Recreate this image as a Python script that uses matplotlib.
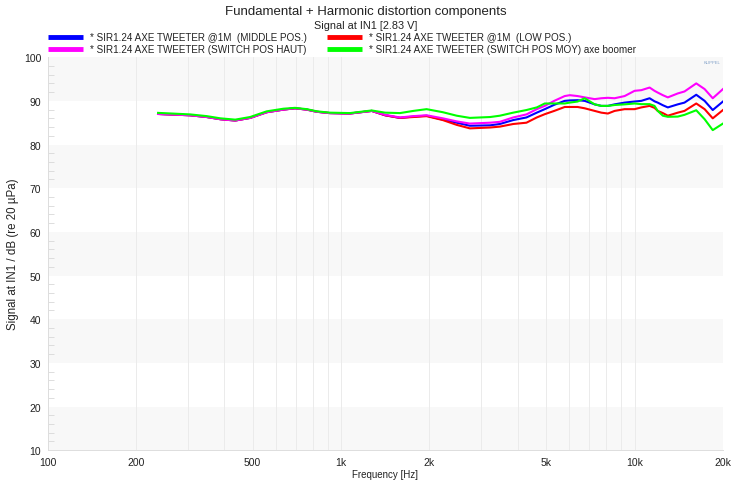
import numpy as np
import matplotlib
matplotlib.use("Agg")
import matplotlib.pyplot as plt
from matplotlib.lines import Line2D
from matplotlib.ticker import FixedLocator, MultipleLocator, NullFormatter

plt.rcParams["font.family"] = ["Liberation Sans", "DejaVu Sans"]

# frequency points (Hz)
freq = [238, 306, 349, 388, 436, 490, 558, 636, 697, 764, 828, 915, 1072, 1272,
        1413, 1587, 1763, 1956, 2222, 2478, 2747, 3221, 3474, 3858, 4281, 4642,
        4943, 5324, 5780, 6014, 6396, 6760, 7311, 7703, 8110, 8550, 9247, 10000,
        10540, 11250, 11690, 11990, 12480, 12980, 14030, 14790, 16220, 17320,
        18460, 20000]

low_common = [87.0, 86.7, 86.3, 85.8, 85.5, 86.1, 87.4, 88.0, 88.3, 88.0, 87.5,
              87.2, 87.1, 87.7]

middle_pos = low_common + [
    86.7, 86.1, 86.4, 86.6, 85.7, 85.0, 84.3, 84.4, 84.7, 85.6, 86.2, 87.3,
    88.1, 89.1, 90.0, 90.1, 90.15, 90.0, 89.2, 88.85, 88.85, 89.2, 89.6, 89.85,
    90.0, 90.6, 89.9, 89.6, 89.0, 88.5, 89.2, 89.6, 91.4, 90.0, 87.9, 89.85]

low_pos = low_common + [
    86.7, 86.1, 86.3, 86.5, 85.6, 84.5, 83.7, 83.9, 84.1, 84.7, 85.0, 86.2,
    86.95, 87.7, 88.6, 88.6, 88.6, 88.3, 87.7, 87.3, 87.1, 87.7, 88.1, 88.1,
    88.5, 88.85, 88.4, 87.7, 87.2, 86.6, 87.3, 87.7, 89.4, 88.1, 86.0, 87.9]

switch_haut = low_common + [
    86.8, 86.2, 86.5, 86.7, 86.0, 85.3, 84.8, 85.0, 85.2, 86.2, 86.9, 88.1,
    88.85, 90.0, 91.1, 91.3, 91.1, 90.8, 90.4, 90.6, 90.7, 90.6, 91.1, 92.3,
    92.45, 93.05, 92.3, 91.9, 91.3, 90.8, 91.7, 92.15, 94.0, 92.7, 90.6, 92.7]

switch_moy = [87.25, 86.9, 86.5, 86.0, 85.7, 86.3, 87.6, 88.2, 88.4, 88.1, 87.6,
              87.3, 87.2, 87.8, 87.3, 87.2, 87.7, 88.1, 87.4, 86.6, 86.1, 86.3,
              86.6, 87.3, 87.9, 88.5, 89.4, 89.4, 89.4, 89.6, 89.85, 90.6, 89.2,
              88.85, 88.85, 89.05, 89.2, 89.4, 89.25, 89.25, 88.85, 87.7, 86.6,
              86.35, 86.4, 86.8, 87.85, 85.8, 83.3, 84.8]

labels = ["* SIR1.24 AXE TWEETER @1M  (MIDDLE POS.)",
          "* SIR1.24 AXE TWEETER @1M  (LOW POS.)",
          "* SIR1.24 AXE TWEETER (SWITCH POS HAUT)",
          "* SIR1.24 AXE TWEETER (SWITCH POS MOY) axe boomer"]
series = [middle_pos, low_pos, switch_haut, switch_moy]
colors = ["#0000ff", "#ff0000", "#ff00ff", "#00ff00"]

xticks = [100, 200, 500, 1000, 2000, 5000, 10000, 20000]
xticklabels = ["100", "200", "500", "1k", "2k", "5k", "10k", "20k"]
yticks = list(range(10, 101, 10))

fig = plt.figure(figsize=(7.31, 4.81), dpi=100)
ax = fig.add_axes([0.065, 0.062, 0.924, 0.817])

ax.set_xscale("log")
ax.set_xlim(100, 20000)
ax.set_ylim(10, 100)

# alternating horizontal bands
for lo in range(10, 100, 20):
    ax.axhspan(lo, lo + 10, color="#f8f8f8", zorder=0, lw=0)

# vertical grid at every 1-2-3..9 decade step
vgrid = [m * d for d in (100, 1000, 10000) for m in range(1, 10) if m * d <= 20000]
for v in vgrid:
    ax.axvline(v, color="#ebebeb", lw=0.7, zorder=0.5)

for y, c, lab in zip(series, colors, labels):
    ax.plot(freq, y, color=c, lw=1.5, label=lab, zorder=2)

ax.xaxis.set_major_locator(FixedLocator(xticks))
ax.set_xticklabels(xticklabels)
ax.xaxis.set_minor_formatter(NullFormatter())
ax.xaxis.set_minor_locator(FixedLocator([]))
ax.set_yticks(yticks)
ax.yaxis.set_minor_locator(MultipleLocator(2))
ax.tick_params(axis="x", length=0, pad=5, labelsize=7.5, colors="#222222")
ax.tick_params(axis="y", which="major", length=0, pad=4.5, labelsize=7.5, colors="#222222")
ax.tick_params(axis="y", which="minor", direction="in", length=4, color="#d8d8d8")

for s in ("top", "right"):
    ax.spines[s].set_visible(False)
for s in ("left", "bottom"):
    ax.spines[s].set_color("#dddddd")
    ax.spines[s].set_linewidth(0.7)

ax.set_xlabel("Frequency [Hz]", fontsize=7, labelpad=1, color="#222222")
ax.set_ylabel("Signal at IN1 / dB (re 20 µPa)", fontsize=8.3, labelpad=3.5, color="#222222")

fig.text(0.5, 1 - 12 / 481, "Fundamental + Harmonic distortion components",
         ha="center", va="center", fontsize=9.5, color="#222222")
fig.text(0.5, 1 - 26 / 481, "Signal at IN1 [2.83 V]", ha="center", va="center",
         fontsize=7.8, color="#222222")

# legend, two columns
leg_pos = [(48, 38), (327, 38), (48, 50), (327, 50)]
W, H = 731, 481
for (px, py), c, lab in zip(leg_pos, colors, labels):
    fig.add_artist(Line2D([px / W, (px + 35) / W], [1 - py / H, 1 - py / H],
                          color=c, lw=3.5, solid_capstyle="butt"))
    fig.text((px + 42) / W, 1 - py / H, lab, ha="left", va="center",
             fontsize=7.1, color="#222222")

fig.text(712 / W, 1 - 63 / H, "KLIPPEL", ha="center", va="center",
         fontsize=3, color="#7f9fc8")

fig.savefig("out.png", dpi=100)
